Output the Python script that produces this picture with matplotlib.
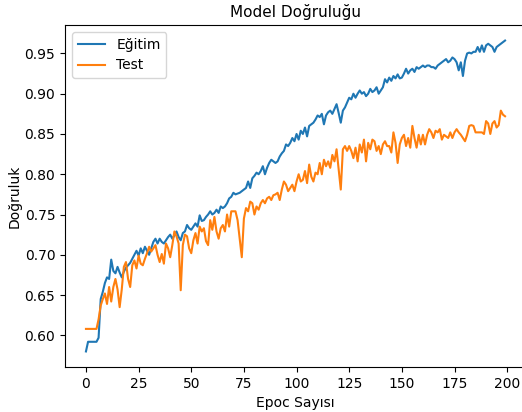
import matplotlib
matplotlib.use("Agg")
import matplotlib.pyplot as plt

# eğitim doğruluğu (epoch 0..199)
egitim = [
    0.580, 0.592, 0.592, 0.592, 0.592, 0.592, 0.597, 0.645, 0.654, 0.665,
    0.672, 0.670, 0.694, 0.680, 0.677, 0.685, 0.678, 0.672, 0.679, 0.684,
    0.687, 0.690, 0.695, 0.700, 0.705, 0.699, 0.708, 0.702, 0.710, 0.705,
    0.700, 0.708, 0.716, 0.720, 0.714, 0.720, 0.716, 0.714, 0.718, 0.722,
    0.725, 0.720, 0.724, 0.729, 0.722, 0.718, 0.727, 0.729, 0.737, 0.733,
    0.731, 0.735, 0.739, 0.735, 0.749, 0.742, 0.743, 0.747, 0.750, 0.754,
    0.750, 0.752, 0.756, 0.752, 0.760, 0.758, 0.760, 0.764, 0.770, 0.772,
    0.777, 0.775, 0.776, 0.777, 0.779, 0.781, 0.783, 0.791, 0.783, 0.795,
    0.798, 0.802, 0.800, 0.804, 0.810, 0.800, 0.808, 0.814, 0.818, 0.816,
    0.814, 0.816, 0.822, 0.826, 0.829, 0.837, 0.835, 0.839, 0.845, 0.841,
    0.850, 0.843, 0.854, 0.850, 0.858, 0.847, 0.860, 0.862, 0.864, 0.868,
    0.873, 0.871, 0.875, 0.862, 0.873, 0.877, 0.879, 0.875, 0.881, 0.887,
    0.876, 0.864, 0.879, 0.883, 0.889, 0.895, 0.893, 0.900, 0.895, 0.900,
    0.904, 0.900, 0.902, 0.897, 0.900, 0.906, 0.902, 0.904, 0.908, 0.900,
    0.904, 0.908, 0.918, 0.914, 0.920, 0.916, 0.922, 0.919, 0.924, 0.919,
    0.920, 0.925, 0.931, 0.925, 0.929, 0.931, 0.927, 0.933, 0.931, 0.933,
    0.935, 0.933, 0.935, 0.935, 0.933, 0.933, 0.931, 0.935, 0.937, 0.939,
    0.941, 0.943, 0.939, 0.941, 0.945, 0.943, 0.939, 0.929, 0.939, 0.922,
    0.941, 0.950, 0.951, 0.950, 0.952, 0.952, 0.958, 0.952, 0.960, 0.952,
    0.960, 0.962, 0.960, 0.958, 0.952, 0.958, 0.960, 0.962, 0.964, 0.966,
]

# test doğruluğu (epoch 0..199)
test = [
    0.608, 0.608, 0.608, 0.608, 0.608, 0.608, 0.620, 0.637, 0.645, 0.652,
    0.639, 0.660, 0.642, 0.660, 0.670, 0.657, 0.635, 0.657, 0.685, 0.691,
    0.670, 0.660, 0.687, 0.693, 0.683, 0.699, 0.689, 0.687, 0.695, 0.702,
    0.710, 0.704, 0.708, 0.712, 0.700, 0.691, 0.701, 0.689, 0.714, 0.708,
    0.697, 0.712, 0.729, 0.723, 0.714, 0.656, 0.712, 0.725, 0.723, 0.708,
    0.702, 0.718, 0.727, 0.714, 0.735, 0.729, 0.733, 0.717, 0.712, 0.743,
    0.731, 0.747, 0.729, 0.720, 0.733, 0.737, 0.729, 0.750, 0.735, 0.754,
    0.754, 0.754, 0.743, 0.720, 0.697, 0.745, 0.758, 0.754, 0.766, 0.764,
    0.750, 0.760, 0.756, 0.764, 0.768, 0.764, 0.770, 0.772, 0.768, 0.774,
    0.775, 0.777, 0.768, 0.781, 0.791, 0.787, 0.779, 0.783, 0.787, 0.779,
    0.791, 0.800, 0.791, 0.793, 0.804, 0.789, 0.812, 0.797, 0.791, 0.802,
    0.800, 0.814, 0.800, 0.818, 0.810, 0.816, 0.808, 0.824, 0.816, 0.831,
    0.806, 0.781, 0.831, 0.835, 0.829, 0.835, 0.829, 0.820, 0.833, 0.816,
    0.837, 0.827, 0.843, 0.816, 0.839, 0.831, 0.843, 0.841, 0.829, 0.835,
    0.825, 0.837, 0.841, 0.835, 0.835, 0.827, 0.852, 0.839, 0.814, 0.837,
    0.845, 0.849, 0.835, 0.845, 0.833, 0.860, 0.845, 0.833, 0.849, 0.837,
    0.849, 0.837, 0.849, 0.856, 0.852, 0.845, 0.854, 0.852, 0.856, 0.843,
    0.849, 0.847, 0.845, 0.852, 0.845, 0.852, 0.856, 0.852, 0.849, 0.845,
    0.841, 0.849, 0.860, 0.861, 0.860, 0.852, 0.852, 0.852, 0.852, 0.850,
    0.866, 0.863, 0.850, 0.863, 0.866, 0.858, 0.861, 0.879, 0.874, 0.872,
]

fig = plt.figure(figsize=(5.22, 4.12), dpi=100)
ax = fig.add_axes([65 / 522, 45 / 412, 461 / 522, 342 / 412])

ax.plot(egitim, label="Eğitim")
ax.plot(test, label="Test")
ax.set_title("Model Doğruluğu", fontsize=11)
ax.set_xlabel("Epoc Sayısı")
ax.set_ylabel("Doğruluk", labelpad=2)
ax.set_xticks([0, 25, 50, 75, 100, 125, 150, 175, 200])
ax.legend(loc="upper left")

fig.savefig("out.png", dpi=100)
